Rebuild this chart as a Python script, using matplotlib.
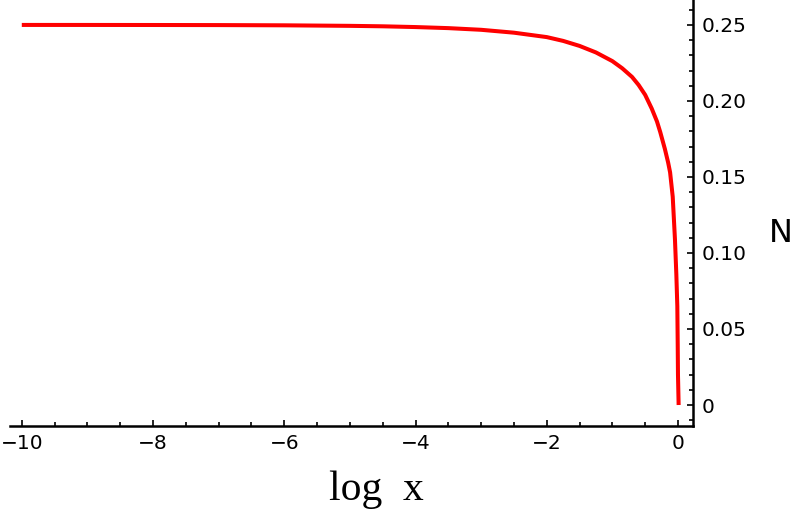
import numpy as np
import matplotlib.pyplot as plt
from matplotlib.ticker import MultipleLocator, FuncFormatter

# values
log_x = [-10.0, -9.0, -8.0, -7.0, -6.0, -5.0, -4.5, -4.0, -3.5, -3.0, -2.5, -2.0,
         -1.75, -1.5, -1.25, -1.0, -0.85, -0.7, -0.6, -0.5, -0.4, -0.32, -0.27,
         -0.2, -0.15, -0.12, -0.08, -0.046, -0.025, -0.01, -0.004, 0.0, 0.01]
n_vals = [0.25, 0.24999, 0.24996, 0.2499, 0.24975, 0.2494, 0.2491, 0.2486, 0.2479,
          0.2468, 0.2449, 0.242, 0.2395, 0.2362, 0.2319, 0.2262, 0.2215, 0.2158,
          0.2105, 0.204, 0.195, 0.1865, 0.1795, 0.1685, 0.1595, 0.153, 0.137, 0.109,
          0.086, 0.065, 0.04, 0.02, 0.0]

x_major = 2
x_minor = 0.5
y_major = 0.05
y_minor = 0.01


def ytick_fmt(v, pos):
    if abs(v) < 1e-9:
        return "0"
    return "%.2f" % v


def main():
    fig = plt.figure(figsize=(7.92, 5.13), dpi=100)
    ax = fig.add_axes([0.0126, 0.1696, 0.8624, 0.8304])

    ax.plot(log_x, n_vals, color="red", lw=2.9, solid_capstyle="butt")

    ax.set_xlim(-10.18, 0.229)
    ax.set_ylim(-0.0138, 0.2664)

    for side in ["top", "left"]:
        ax.spines[side].set_visible(False)
    for side in ["bottom", "right"]:
        ax.spines[side].set_linewidth(1.8)

    ax.xaxis.set_major_locator(MultipleLocator(x_major))
    ax.xaxis.set_minor_locator(MultipleLocator(x_minor))
    ax.yaxis.set_major_locator(MultipleLocator(y_major))
    ax.yaxis.set_minor_locator(MultipleLocator(y_minor))
    ax.yaxis.set_major_formatter(FuncFormatter(ytick_fmt))

    ax.yaxis.tick_right()
    ax.tick_params(which="both", direction="in", width=1.2, labelsize=14.5,
                   left=False, top=False)
    ax.tick_params(which="major", length=4.5, pad=6)
    ax.tick_params(which="minor", length=2.6)

    fig.text(376 / 792, 1 - 490 / 513, "log  x", family="Liberation Serif",
             fontsize=30, ha="center", va="center")
    fig.text(781 / 792, 1 - 233 / 513, "N", family="DejaVu Sans",
             fontsize=23, ha="center", va="center")

    fig.savefig("out.png", dpi=100)


if __name__ == "__main__":
    main()
